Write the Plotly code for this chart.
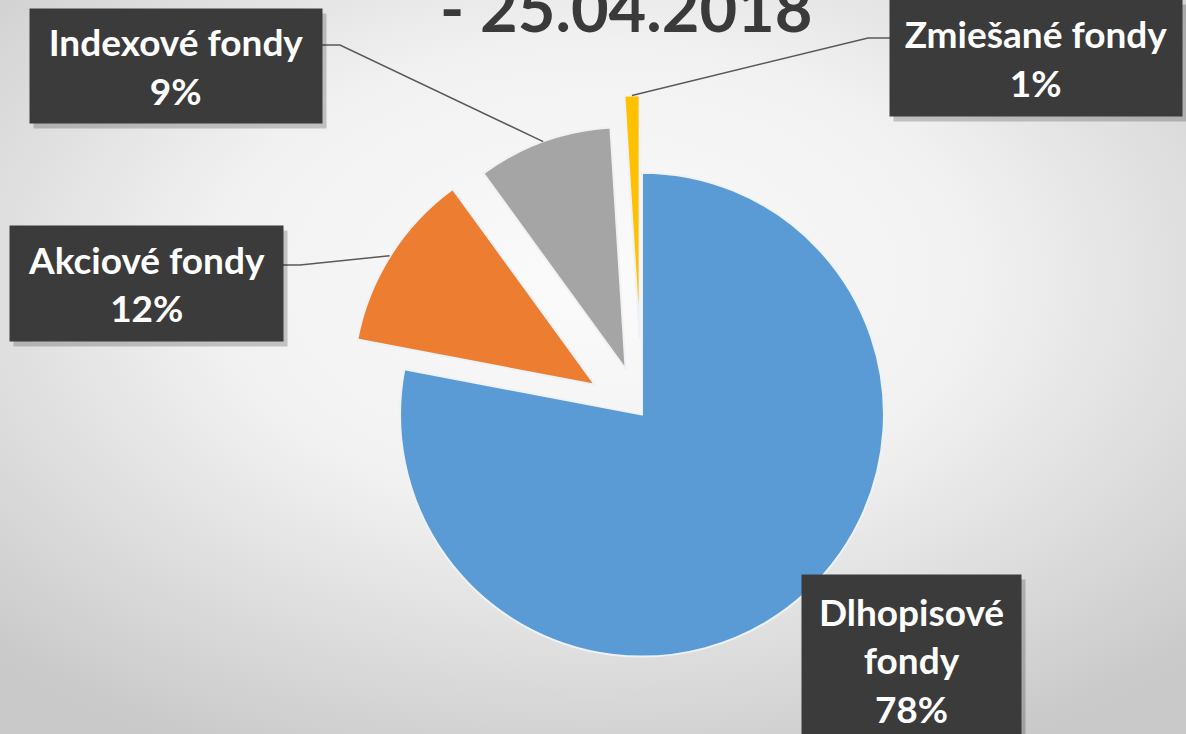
import base64
import numpy as np
import plotly.graph_objects as go

W, H = 1186, 734

labels = ['Dlhopisové fondy', 'Akciové fondy', 'Indexové fondy', 'Zmiešané fondy']
shares = [78, 12, 9, 1]
pulls = [0, 0.23, 0.2, 0.32]
colors = ['#5B9BD5', '#ED7D31', '#A5A5A5', '#FFC000']
title_text = '- 25.04.2018'

# pie placement in pixels (centre + radius of the un-pulled pie)
cx, cy, r = 642, 416, 243
side = 2 * r * (1 + max(pulls))


def paper(x, y):
    return x / W, 1 - y / H


def slice_tip(i):
    # outer midpoint of slice i after pulling, in pixels
    total = sum(shares)
    start = sum(shares[:i]) / total * 360
    mid = np.radians(start + shares[i] / total * 180)
    dist = r * (1 + pulls[i])
    return cx + dist * np.sin(mid), cy - dist * np.cos(mid)


# label boxes: centre, size, line break, leader start and elbow (pixels)
boxes = {
    'Dlhopisové fondy': dict(c=(912, 660), size=(219, 170), wrap=True, leader=None),
    'Akciové fondy': dict(c=(146, 283), size=(273, 115), wrap=False,
                          leader=[(283, 265), (300, 265)]),
    'Indexové fondy': dict(c=(176, 66), size=(292, 114), wrap=False,
                           leader=[(322, 45), (340, 45)]),
    'Zmiešané fondy': dict(c=(1036, 58), size=(292, 116), wrap=False,
                           leader=[(890, 38), (868, 38)]),
}

bg_svg = f'''<svg xmlns="http://www.w3.org/2000/svg" width="{W}" height="{H}" preserveAspectRatio="none">
<defs><radialGradient id="g" cx="50%" cy="38%" r="72%">
<stop offset="0" stop-color="#fbfbfb"/><stop offset="0.45" stop-color="#f1f1f1"/>
<stop offset="1" stop-color="#c9c9c9"/></radialGradient></defs>
<rect width="100%" height="100%" fill="url(#g)"/></svg>'''
bg_src = 'data:image/svg+xml;base64,' + base64.b64encode(bg_svg.encode()).decode()

x0, y1 = paper(cx - side / 2, cy - side / 2)
x1, y0 = paper(cx + side / 2, cy + side / 2)

fig = go.Figure(go.Pie(labels=labels,
                       values=shares,
                       pull=pulls,
                       sort=False,
                       direction='clockwise',
                       rotation=0,
                       marker=dict(colors=colors, line=dict(color='#eef2f6', width=2)),
                       textinfo='none',
                       hoverinfo='label+percent',
                       showlegend=False,
                       domain=dict(x=[x0, x1], y=[max(y0, 0), min(y1, 1)])
                       )
                )

shapes = []
annotations = []
label_font = dict(family='Lato', size=37, color='white', weight='bold')

for i, name in enumerate(labels):
    b = boxes[name]
    bx, by = paper(*b['c'])
    text_name = name.replace(' ', '<br>') if b['wrap'] else name
    text = f'{text_name}<br>{shares[i]}%'
    # soft shadow behind the box
    annotations.append(dict(x=bx, y=by, xref='paper', yref='paper', text=' ',
                            xanchor='center', yanchor='middle',
                            showarrow=False, width=b['size'][0], height=b['size'][1],
                            bgcolor='rgba(0,0,0,0.2)', borderpad=0,
                            xshift=4, yshift=-5))
    annotations.append(dict(x=bx, y=by, xref='paper', yref='paper', text=text,
                            xanchor='center', yanchor='middle',
                            showarrow=False, width=b['size'][0], height=b['size'][1],
                            bgcolor='#3b3b3b', borderpad=0, font=label_font,
                            align='center', valign='middle'))
    if b['leader']:
        pts = b['leader'] + [slice_tip(i)]
        path = 'M ' + ' L '.join(f'{paper(px, py)[0]:.5f},{paper(px, py)[1]:.5f}'
                                 for px, py in pts)
        shapes.append(dict(type='path', path=path, xref='paper', yref='paper',
                           line=dict(color='#595959', width=1.5)))

annotations.append(dict(x=626 / W, y=1 - 48 / H, xref='paper', yref='paper',
                        text=title_text, showarrow=False, xanchor='center',
                        yanchor='bottom',
                        font=dict(family='Lato', size=65, color='#3a3a3a',
                                  weight='bold')))

fig.update_layout(width=W, height=H,
                  margin=dict(l=0, r=0, t=0, b=0),
                  paper_bgcolor='#e6e6e6',
                  images=[dict(source=bg_src, xref='paper', yref='paper',
                               x=0, y=1, sizex=1, sizey=1, sizing='stretch',
                               xanchor='left', yanchor='top', layer='below')],
                  shapes=shapes,
                  annotations=annotations)

fig.write_html('out.html',
               config={'displayModeBar': False},
               post_script="document.body.style.margin='0';"
                           "document.body.style.overflow='hidden';")
